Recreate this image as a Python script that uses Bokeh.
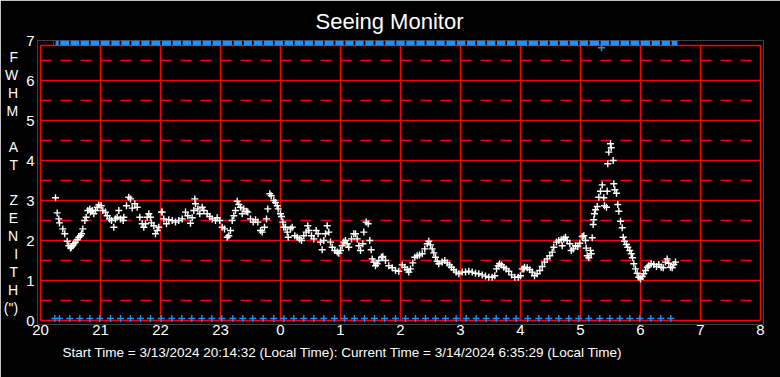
from bokeh.plotting import figure
from bokeh.models import Range1d, FixedTicker, Title, ColumnDataSource
from bokeh.embed import file_html
from bokeh.resources import INLINE

FONT = "Liberation Sans"
RED = "#ff0000"
BLUE = "#1e90ff"

# ---- data (time in minutes after 20:00 local, FWHM in arcsec) ----
seeing_minutes = [
    15.0, 16.7, 18.3, 19.0, 22.3, 24.3, 26.7, 28.3, 30.0, 30.7, 32.3, 33.3, 35.0, 36.7, 38.3, 40.0,
    41.0, 42.3, 44.3, 45.7, 47.3, 49.3, 50.0, 51.7, 53.3, 55.0, 56.7, 58.3, 60.7, 62.3, 65.0, 66.7,
    69.0, 71.0, 73.3, 75.0, 76.7, 78.3, 80.0, 82.7, 83.3, 86.0, 88.3, 90.0, 91.7, 94.3, 96.7, 99.3,
    101.7, 103.3, 105.0, 106.7, 108.3, 110.0, 111.0, 113.3, 115.0, 116.7, 118.3, 121.0, 121.7, 123.3,
    126.0, 128.3, 131.7, 135.0, 138.3, 141.7, 145.0, 147.3, 150.0, 151.7, 153.3, 154.3, 155.0, 157.3,
    159.3, 161.7, 163.3, 166.7, 169.3, 171.7, 175.0, 176.7, 179.3, 181.7, 184.0, 186.7, 188.3, 190.0,
    191.7, 193.3, 195.0, 196.7, 198.3, 200.0, 201.7, 203.3, 206.0, 207.3, 210.0, 212.7, 215.0, 217.3,
    220.0, 221.7, 224.0, 226.0, 227.3, 229.3, 230.7, 233.3, 235.0, 236.7, 237.7, 240.0, 241.0, 242.3,
    243.3, 245.0, 246.7, 247.7, 250.0, 251.7, 254.3, 256.7, 259.0, 261.0, 263.3, 265.7, 267.3, 268.3,
    271.0, 273.3, 275.7, 277.7, 280.0, 281.7, 283.3, 285.0, 286.7, 288.3, 290.0, 291.7, 294.3, 296.7,
    298.3, 300.0, 301.7, 303.3, 305.0, 306.7, 308.3, 311.0, 313.3, 315.0, 316.7, 318.3, 320.0, 322.3,
    323.3, 325.7, 327.7, 329.3, 330.7, 331.7, 333.3, 335.0, 336.7, 338.3, 341.0, 342.3, 345.0, 348.3,
    351.7, 355.0, 358.3, 361.7, 364.3, 366.7, 368.3, 370.0, 372.3, 374.3, 376.7, 379.0, 381.7, 384.3,
    386.7, 388.3, 390.0, 391.7, 393.3, 395.0, 396.7, 398.3, 401.7, 404.3, 406.7, 409.0, 411.0, 413.3,
    415.7, 418.3, 421.7, 425.0, 428.3, 431.7, 435.0, 438.3, 441.7, 445.0, 448.3, 451.7, 454.3, 456.0,
    457.7, 459.0, 461.0, 463.3, 465.7, 468.3, 471.0, 474.3, 477.7, 480.0, 481.7, 483.3, 484.0, 486.7,
    489.3, 491.7, 494.0, 496.7, 499.3, 501.7, 504.0, 506.7, 509.3, 511.7, 513.3, 516.0, 518.3, 520.7,
    521.7, 523.3, 525.0, 526.7, 529.3, 530.7, 532.7, 535.0, 537.3, 539.3, 541.7, 543.3, 545.0, 545.7,
    546.7, 548.3, 550.0, 550.7, 551.7, 552.7, 553.3, 554.0, 555.0, 556.7, 558.3, 560.0, 561.7, 563.3,
    564.0, 566.0, 566.7, 567.3, 568.3, 570.0, 570.7, 572.7, 573.3, 574.3, 576.0, 577.3, 578.3, 580.0,
    581.7, 582.7, 584.0, 586.0, 587.3, 589.3, 590.7, 592.0, 593.3, 595.0, 596.7, 598.3, 600.0, 601.7,
    603.3, 605.0, 606.7, 608.3, 610.7, 613.3, 616.0, 618.3, 620.7, 622.7, 625.0, 626.7, 628.3, 630.0,
    631.7, 633.3, 635.0,
]
seeing_fwhm = [
    3.07, 2.69, 2.54, 2.44, 2.29, 2.17, 1.98, 1.87, 1.81, 1.83, 1.87, 1.92, 1.96, 2.02, 2.08, 2.12,
    2.17, 2.29, 2.50, 2.58, 2.75, 2.79, 2.71, 2.75, 2.67, 2.75, 2.83, 2.89, 2.87, 2.75, 2.71, 2.62,
    2.54, 2.50, 2.33, 2.54, 2.58, 2.75, 2.54, 2.50, 2.58, 2.87, 3.08, 3.04, 2.81, 2.92, 2.83, 2.58,
    2.42, 2.33, 2.42, 2.58, 2.67, 2.58, 2.44, 2.37, 2.17, 2.25, 2.33, 2.71, 2.71, 2.54,
    2.42, 2.52, 2.50, 2.46, 2.50, 2.54, 2.71, 2.62, 2.43, 2.57, 2.75, 3.04, 2.92, 2.79,
    2.67, 2.83, 2.75, 2.67, 2.60, 2.54, 2.50, 2.57, 2.50, 2.33, 2.29, 2.08, 2.12, 2.25,
    2.50, 2.62, 2.75, 2.98, 2.90, 2.83, 2.67, 2.79, 2.73, 2.71, 2.54, 2.46, 2.52, 2.46,
    2.25, 2.21, 2.33, 2.54, 2.79, 3.17, 3.12, 3.00, 2.95, 2.87, 2.79, 2.67, 2.60, 2.46,
    2.33, 2.33, 2.21, 2.08, 2.29, 2.33, 2.12, 2.08, 2.04, 2.00, 2.12, 2.21, 2.37, 2.25,
    2.12, 2.04, 2.25, 2.17, 1.96, 1.77, 2.00, 2.17, 2.37, 2.21, 1.96, 1.83, 1.75, 1.71,
    1.68, 1.75, 1.87, 1.96, 2.00, 1.92, 1.83, 2.04, 2.17, 2.17, 2.04, 1.87, 1.75, 1.92,
    2.21, 2.46, 2.42, 2.00, 1.77, 1.54, 1.46, 1.37, 1.42, 1.50, 1.58, 1.60, 1.50, 1.37,
    1.32, 1.25, 1.23, 1.39, 1.33, 1.27, 1.21, 1.29, 1.44, 1.58, 1.62, 1.64, 1.67, 1.79,
    1.92, 1.98, 1.89, 1.79, 1.69, 1.58, 1.48, 1.42, 1.46, 1.50, 1.44, 1.39, 1.33, 1.27,
    1.21, 1.17, 1.21, 1.21, 1.23, 1.21, 1.18, 1.17, 1.14, 1.11, 1.08, 1.08, 1.12, 1.29,
    1.37, 1.42, 1.39, 1.33, 1.29, 1.23, 1.14, 1.08, 1.08, 1.12, 1.29, 1.29, 1.33, 1.32,
    1.27, 1.21, 1.12, 1.17, 1.25, 1.35, 1.46, 1.54, 1.62, 1.71, 1.83, 1.96, 2.00, 2.02,
    1.87, 2.04, 2.08, 2.00, 1.92, 1.75, 1.79, 1.87, 1.85, 1.93, 2.10, 2.12, 2.00, 1.81,
    1.62, 1.57, 1.75, 1.67, 2.07, 2.40, 2.52, 2.67, 2.77, 2.85, 3.08, 3.23, 3.39, 3.07,
    2.87, 2.83, 3.23, 3.92, 4.21, 4.42, 4.32, 4.00, 3.42, 3.27, 3.18, 2.90, 2.73, 2.48,
    2.32, 2.08, 1.98, 1.90, 1.83, 1.75, 1.67, 1.57, 1.42, 1.29, 1.18, 1.08, 1.04, 1.10,
    1.17, 1.25, 1.33, 1.37, 1.42, 1.40, 1.35, 1.40, 1.33, 1.32, 1.46, 1.54, 1.43, 1.33,
    1.32, 1.40, 1.46,
]

# blue markers along the bottom (every ~10 min)
low_marker_minutes = [
    14.3, 19.0, 29.3, 39.3, 49.3, 59.3, 70.0, 80.0, 90.0, 100.0, 110.0, 120.7, 131.3, 141.3, 151.3,
    161.3, 171.3, 181.3, 192.3, 202.3, 212.3, 222.7, 233.3, 243.3, 253.3, 263.3, 273.3, 283.3, 294.0,
    304.0, 314.0, 324.0, 334.0, 344.0, 355.0, 365.0, 375.0, 385.0, 395.0, 405.0, 415.7, 425.7, 435.7,
    445.7, 455.7, 465.7, 475.7, 487.3, 498.3, 508.3, 518.3, 528.3, 538.3, 548.3, 559.3, 569.3, 579.3,
    589.3, 599.3, 610.3, 620.3, 630.3,
]
low_marker_value = 0.05

# blue band along the top (dense readings, broken at each 10-min mark)
top_band_start_min = 13.0
top_band_end_min = 637.0
top_band_value = 6.94
top_extra_minutes = [561.0]
top_extra_value = [6.82]

x_ticks = [20, 21, 22, 23, 24, 25, 26, 27, 28, 29, 30, 31, 32]
x_tick_labels = ["20", "21", "22", "23", "0", "1", "2", "3", "4", "5", "6", "7", "8"]
y_ticks = [0, 1, 2, 3, 4, 5, 6, 7]
y_tick_labels = ["0", "1", "2", "3", "4", "5", "6", "7"]
y_axis_letters = ["F", "W", "H", "M", " ", "A", "T", " ", "Z", "E", "N", "I", "T", "H", "(\")"]

title_text = "Seeing Monitor"
footer_text = "Start Time = 3/13/2024  20:14:32 (Local Time): Current Time = 3/14/2024 6:35:29 (Local Time)"

GRID_TOP = 6.875


def to_hours(m):
    return 20.0 + m / 60.0


seeing_hours = [to_hours(m) for m in seeing_minutes]
low_hours = [to_hours(m) for m in low_marker_minutes]

# band pieces between the 10-minute marks
gap = 0.85
bounds = [m for m in low_marker_minutes if top_band_start_min < m < top_band_end_min]
starts = [top_band_start_min] + [b + gap for b in bounds]
ends = [b - gap for b in bounds] + [top_band_end_min]
band_x0, band_x1 = [], []
for s, e in zip(starts, ends):
    if e > s:
        band_x0.append(to_hours(s))
        band_x1.append(to_hours(e))

# ---- figure ----
FL = 37  # frame left in canvas px
p = figure(width=780, height=377, x_range=Range1d(19.95, 32.05), y_range=Range1d(-0.1, 7.0),
           output_backend="svg", toolbar_location=None,
           min_border_left=37, min_border_right=17, min_border_top=40, min_border_bottom=53,
           background_fill_color="black", border_fill_color="black", outline_line_color=None)
p.grid.visible = False

p.title.text = title_text
p.title.align = "left"
p.title.offset = 315 - FL
p.title.standoff = 13
p.title.text_color = "white"
p.title.text_font = FONT
p.title.text_font_size = "22px"
p.title.text_font_style = "normal"

for ax in (p.xaxis, p.yaxis):
    ax.axis_line_color = None
    ax.major_tick_line_color = None
    ax.minor_tick_line_color = None
    ax.major_tick_out = 0
    ax.major_tick_in = 0
    ax.minor_tick_out = 0
    ax.minor_tick_in = 0
    ax.major_label_text_color = "white"
    ax.major_label_text_font = FONT
    ax.major_label_text_font_size = "15px"

p.xaxis.ticker = FixedTicker(ticks=x_ticks)
p.xaxis.major_label_overrides = {t: l for t, l in zip(x_ticks, x_tick_labels)}
p.xaxis.major_label_standoff = 0
p.yaxis.ticker = FixedTicker(ticks=y_ticks)
p.yaxis.major_label_overrides = {t: l for t, l in zip(y_ticks, y_tick_labels)}
p.yaxis.major_label_standoff = 3

# stacked letters as the y axis title
p.yaxis.axis_label = "\n".join(y_axis_letters)
p.yaxis.axis_label_orientation = "horizontal"
p.yaxis.axis_label_text_color = "white"
p.yaxis.axis_label_text_font = FONT
p.yaxis.axis_label_text_font_size = "14px"
p.yaxis.axis_label_text_font_style = "normal"
p.yaxis.axis_label_text_line_height = 1.124
p.yaxis.axis_label_text_align = "left"
p.yaxis.axis_label_standoff = 5

# footer line
p.add_layout(Title(text=footer_text, align="left", offset=62 - FL, standoff=11, text_color="white",
                   text_font=FONT, text_font_size="13.5px", text_font_style="normal",
                   text_line_height=1.45), "below")

# grid box
solid_y = [t for t in y_ticks if t < GRID_TOP] + [GRID_TOP]
dash_y = [t + 0.5 for t in y_ticks if t + 0.5 < GRID_TOP]
p.segment(x0=[x_ticks[0]] * len(solid_y), x1=[x_ticks[-1]] * len(solid_y), y0=solid_y, y1=solid_y,
          line_color=RED, line_width=1.5)
p.segment(x0=[x_ticks[0]] * len(dash_y), x1=[x_ticks[-1]] * len(dash_y), y0=dash_y, y1=dash_y,
          line_color=RED, line_width=1.5, line_dash="11 9")
p.segment(x0=x_ticks, x1=x_ticks, y0=[0] * len(x_ticks), y1=[GRID_TOP] * len(x_ticks),
          line_color=RED, line_width=1.5)

# blue top band and bottom markers
p.segment(x0=band_x0, x1=band_x1, y0=[top_band_value] * len(band_x0), y1=[top_band_value] * len(band_x0),
          line_color=BLUE, line_width=5, line_cap="butt")
p.scatter(x=[to_hours(m) for m in top_extra_minutes], y=top_extra_value, marker="cross", size=7,
          line_color=BLUE, line_width=1.4)
p.scatter(x=low_hours, y=[low_marker_value] * len(low_hours), marker="cross", size=7,
          line_color=BLUE, line_width=1.4)

# seeing values
src = ColumnDataSource(dict(x=seeing_hours, y=seeing_fwhm))
p.scatter(x="x", y="y", source=src, marker="cross", size=7, line_color="white", line_width=1.4)

open("out.html", "w").write(file_html(p, INLINE))
